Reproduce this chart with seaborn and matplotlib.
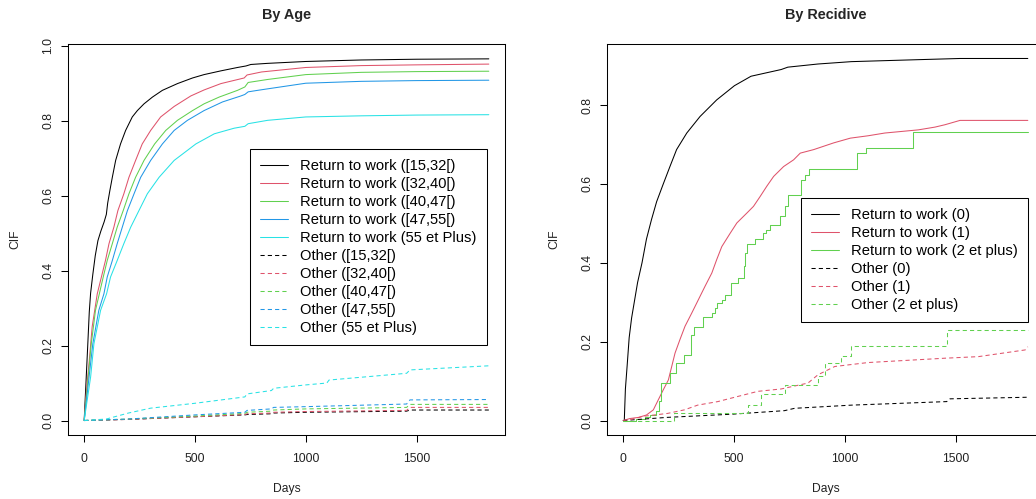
import matplotlib
matplotlib.use("Agg")
import matplotlib.pyplot as plt
from matplotlib.lines import Line2D
import seaborn as sns

# ---------------- By Age ----------------
age_groups = ["[15,32[", "[32,40[", "[40,47[", "[47,55[", "55 et Plus"]
age_colors = ["#000000", "#DF536B", "#61D04F", "#2297E6", "#28E2E5"]

rtw_age_days = [
    [0, 8, 16, 23, 29, 39, 50, 62, 75, 90, 100, 106, 116, 127, 142, 164, 187, 217, 240,
     270, 308, 353, 421, 489, 541, 617, 692, 730, 752, 828, 1000, 1250, 1500, 1826],
    [0, 10, 23, 36, 59, 96, 112, 134, 152, 179, 202, 232, 262, 300, 345, 406, 481, 541,
     617, 722, 735, 800, 1000, 1250, 1500, 1826],
    [0, 18, 32, 51, 86, 104, 127, 149, 176, 202, 232, 270, 318, 368, 421, 489, 541, 609,
     692, 725, 740, 828, 1000, 1250, 1500, 1826],
    [0, 22, 39, 66, 89, 104, 127, 149, 172, 195, 225, 255, 300, 353, 406, 466, 541, 624,
     707, 725, 740, 783, 828, 1000, 1250, 1500, 1826],
    [0, 29, 44, 74, 101, 119, 149, 179, 210, 247, 285, 338, 406, 504, 587, 677, 725, 740,
     828, 1000, 1250, 1500, 1826],
]
rtw_age_cif = [
    [0, 0.10, 0.20, 0.29, 0.34, 0.39, 0.44, 0.48, 0.505, 0.53, 0.55, 0.58, 0.614, 0.649,
     0.694, 0.738, 0.774, 0.810, 0.827, 0.845, 0.863, 0.881, 0.899, 0.914, 0.923, 0.933,
     0.942, 0.946, 0.950, 0.953, 0.958, 0.962, 0.964, 0.965],
    [0, 0.08, 0.16, 0.25, 0.338, 0.427, 0.472, 0.516, 0.560, 0.605, 0.649, 0.694, 0.738,
     0.774, 0.810, 0.838, 0.866, 0.882, 0.899, 0.914, 0.922, 0.930, 0.942, 0.947, 0.949, 0.951],
    [0, 0.116, 0.205, 0.294, 0.383, 0.427, 0.472, 0.516, 0.560, 0.605, 0.649, 0.694, 0.738,
     0.774, 0.801, 0.827, 0.845, 0.863, 0.881, 0.890, 0.902, 0.910, 0.923, 0.929, 0.931, 0.932],
    [0, 0.116, 0.205, 0.294, 0.338, 0.383, 0.427, 0.472, 0.516, 0.560, 0.605, 0.649, 0.694,
     0.738, 0.774, 0.801, 0.827, 0.850, 0.866, 0.870, 0.877, 0.881, 0.885, 0.900, 0.905,
     0.907, 0.908],
    [0, 0.116, 0.205, 0.294, 0.338, 0.383, 0.427, 0.472, 0.516, 0.560, 0.605, 0.649, 0.694,
     0.738, 0.765, 0.780, 0.785, 0.792, 0.801, 0.810, 0.813, 0.815, 0.816],
]

oth_age_days = [
    [0, 200, 500, 725, 735, 845, 855, 1000, 1455, 1470, 1826],
    [0, 200, 500, 725, 735, 845, 855, 1000, 1455, 1470, 1826],
    [0, 200, 500, 725, 735, 845, 855, 1000, 1455, 1470, 1826],
    [0, 200, 500, 725, 735, 845, 855, 1000, 1455, 1470, 1826],
    [0, 100, 200, 300, 500, 725, 735, 845, 855, 1000, 1095, 1105, 1455, 1470, 1826],
]
oth_age_cif = [
    [0, 0.003, 0.010, 0.015, 0.016, 0.018, 0.020, 0.022, 0.025, 0.028, 0.028],
    [0, 0.003, 0.010, 0.016, 0.018, 0.020, 0.022, 0.024, 0.027, 0.035, 0.035],
    [0, 0.004, 0.012, 0.019, 0.022, 0.025, 0.028, 0.031, 0.035, 0.043, 0.043],
    [0, 0.004, 0.015, 0.022, 0.027, 0.031, 0.035, 0.037, 0.044, 0.055, 0.056],
    [0, 0.004, 0.020, 0.033, 0.046, 0.063, 0.071, 0.080, 0.086, 0.095, 0.100, 0.108,
     0.126, 0.135, 0.146],
]

# ---------------- By Recidive ----------------
rec_groups = ["0", "1", "2 et plus"]
rec_colors = ["#000000", "#DF536B", "#61D04F"]

rtw_rec0_days = [0, 5, 10, 18, 27, 38, 50, 65, 85, 105, 128, 151, 181, 211, 241, 287, 347,
                 422, 502, 577, 713, 743, 879, 1030, 1332, 1520, 1826]
rtw_rec0_cif = [0, 0, 0.08, 0.14, 0.21, 0.26, 0.30, 0.35, 0.40, 0.46, 0.51, 0.555, 0.60,
                0.644, 0.687, 0.729, 0.771, 0.813, 0.849, 0.873, 0.890, 0.896, 0.904,
                0.910, 0.915, 0.918, 0.918]

rtw_rec1_days = [0, 30, 70, 105, 136, 158, 181, 204, 219, 234, 256, 279, 309, 339, 369, 400,
                 422, 445, 483, 513, 558, 588, 618, 648, 679, 724, 769, 799, 860, 950, 1025,
                 1105, 1181, 1332, 1407, 1452, 1520, 1826]
rtw_rec1_cif = [0, 0.005, 0.008, 0.014, 0.027, 0.052, 0.078, 0.103, 0.137, 0.171, 0.205,
                0.239, 0.272, 0.306, 0.340, 0.374, 0.408, 0.441, 0.475, 0.501, 0.526, 0.543,
                0.568, 0.594, 0.619, 0.644, 0.661, 0.678, 0.687, 0.704, 0.716, 0.722, 0.729,
                0.737, 0.744, 0.750, 0.761, 0.761]

rtw_rec2_days = [0, 60, 98, 121, 150, 160, 170, 210, 240, 276, 305, 320, 362, 400, 415, 425,
                 445, 460, 487, 520, 543, 550, 558, 596, 633, 645, 664, 709, 731, 746, 802,
                 822, 837, 1057, 1098, 1309, 1826]
rtw_rec2_cif = [0, 0.003, 0.008, 0.015, 0.025, 0.05, 0.095, 0.12, 0.145, 0.167, 0.217,
                0.238, 0.262, 0.272, 0.285, 0.298, 0.306, 0.319, 0.348, 0.361, 0.391, 0.425,
                0.448, 0.460, 0.475, 0.484, 0.496, 0.518, 0.543, 0.572, 0.611, 0.623, 0.638,
                0.678, 0.690, 0.731, 0.731]

oth_rec0_days = [0, 200, 490, 728, 774, 1030, 1460, 1475, 1826]
oth_rec0_cif = [0, 0.008, 0.016, 0.025, 0.031, 0.039, 0.048, 0.055, 0.059]

oth_rec1_days = [0, 35, 95, 200, 276, 336, 427, 517, 608, 713, 834, 879, 955, 1105, 1452,
                 1603, 1814, 1826]
oth_rec1_cif = [0, 0.003, 0.011, 0.018, 0.027, 0.039, 0.048, 0.061, 0.074, 0.080, 0.095,
                0.116, 0.137, 0.147, 0.158, 0.162, 0.179, 0.187]

oth_rec2_days = [0, 230, 563, 623, 728, 879, 909, 985, 1030, 1460, 1826]
oth_rec2_cif = [0, 0.02, 0.04, 0.068, 0.091, 0.112, 0.146, 0.163, 0.188, 0.229, 0.229]

x_ticks = [0, 500, 1000, 1500]

# ---------------- figure ----------------
sns.set_theme(style="ticks")
plt.rcParams["font.family"] = ["Liberation Sans", "DejaVu Sans"]

W, H = 1036, 499
fig = plt.figure(figsize=(W / 100, H / 100), dpi=100)
fig.patch.set_facecolor("white")

LW = 0.75
DASH = (0, (4, 3))


def add_axes_px(left, top, right, bottom):
    return fig.add_axes([left / W, 1 - bottom / H, (right - left) / W, (bottom - top) / H])


def style_axes(ax, title, ymax, yticks):
    ax.set_facecolor("white")
    ax.set_xlim(-0.04 * 1826, 1.04 * 1826)
    ax.set_ylim(-0.04 * ymax, 1.04 * ymax)
    ax.set_xticks(x_ticks)
    ax.set_xticklabels([str(t) for t in x_ticks])
    ax.set_yticks(yticks)
    ax.set_yticklabels([f"{t:.1f}" for t in yticks])
    ax.tick_params(axis="both", direction="out", length=5, width=LW, color="black",
                   labelsize=8.7, labelcolor="#222222")
    ax.tick_params(axis="x", pad=8)
    ax.tick_params(axis="y", pad=5, labelrotation=90)
    for lab in ax.get_yticklabels():
        lab.set_verticalalignment("center")
    for sp in ax.spines.values():
        sp.set_visible(True)
        sp.set_linewidth(LW)
        sp.set_color("black")
    ax.grid(False)
    ax.set_title(title, fontsize=10.4, fontweight="bold", pad=18)
    ax.set_xlabel("Days", fontsize=8.7, color="#222222")
    ax.set_ylabel("CIF", fontsize=8.7, color="#222222")
    ax.xaxis.set_label_coords(0.5, -54 / 391)
    ax.xaxis.label.set_verticalalignment("center")
    ax.yaxis.set_label_coords(-53 / 437, 0.5)
    ax.yaxis.label.set_verticalalignment("center")


def draw(ax, days, cif, color, dashed=False, steps=False):
    kw = dict(x=days, y=cif, color=color, linewidth=LW, ax=ax,
              estimator=None, sort=False, legend=False)
    if dashed:
        kw["linestyle"] = DASH
    if steps:
        kw["drawstyle"] = "steps-post"
    sns.lineplot(**kw)


def legend_key(color, dashed):
    return Line2D([], [], color=color, linewidth=LW, linestyle=DASH if dashed else "-")


def add_legend(ax, handles, labels, left, top):
    leg = ax.legend(handles, labels, loc="upper left",
                    bbox_to_anchor=(left / W, 1 - top / H),
                    bbox_transform=fig.transFigure, borderaxespad=0, fontsize=10.6,
                    frameon=True, fancybox=False, shadow=False, framealpha=1,
                    edgecolor="black", handlelength=1.85, handletextpad=0.85,
                    borderpad=0.7, labelspacing=0.27)
    leg.get_frame().set_linewidth(LW)
    for t in leg.get_texts():
        t.set_color("black")
    return leg


# Left panel
ax1 = add_axes_px(68, 44, 505, 435)
h1, l1 = [], []
for g, c, d, v in zip(age_groups, age_colors, rtw_age_days, rtw_age_cif):
    draw(ax1, d, v, c)
    h1.append(legend_key(c, False))
    l1.append(f"Return to work ({g})")
for g, c, d, v in zip(age_groups, age_colors, oth_age_days, oth_age_cif):
    draw(ax1, d, v, c, dashed=True)
    h1.append(legend_key(c, True))
    l1.append(f"Other ({g})")
style_axes(ax1, "By Age", 0.966, [0.0, 0.2, 0.4, 0.6, 0.8, 1.0])
add_legend(ax1, h1, l1, 250, 149)

# Right panel (extends past the right edge of the figure)
ax2 = add_axes_px(607, 44, 1044, 435)
draw(ax2, rtw_rec0_days, rtw_rec0_cif, rec_colors[0])
draw(ax2, rtw_rec1_days, rtw_rec1_cif, rec_colors[1])
draw(ax2, rtw_rec2_days, rtw_rec2_cif, rec_colors[2], steps=True)
draw(ax2, oth_rec0_days, oth_rec0_cif, rec_colors[0], dashed=True)
draw(ax2, oth_rec1_days, oth_rec1_cif, rec_colors[1], dashed=True)
draw(ax2, oth_rec2_days, oth_rec2_cif, rec_colors[2], dashed=True, steps=True)
h2 = [legend_key(c, False) for c in rec_colors] + [legend_key(c, True) for c in rec_colors]
l2 = [f"Return to work ({g})" for g in rec_groups] + [f"Other ({g})" for g in rec_groups]
style_axes(ax2, "By Recidive", 0.918, [0.0, 0.2, 0.4, 0.6, 0.8])
add_legend(ax2, h2, l2, 801, 198)

fig.savefig("out.png", dpi=100, facecolor="white")
